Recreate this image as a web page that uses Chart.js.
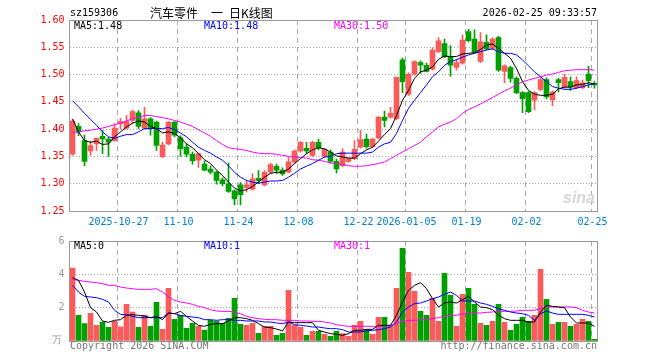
<!DOCTYPE html>
<html><head><meta charset="utf-8">
<script src="https://cdn.jsdelivr.net/npm/chart.js@4.4.1/dist/chart.umd.min.js"></script>
<style>
html,body{margin:0;padding:0;background:#fff;}
#wrap{position:relative;width:660px;height:360px;overflow:hidden;font-family:"DejaVu Sans Mono",monospace;font-size:10px;}
canvas{position:absolute;left:0;}
.t{position:absolute;white-space:nowrap;line-height:12px;}
.cj{position:absolute;white-space:nowrap;font-family:'Noto Sans CJK SC';font-size:12px;line-height:15px;top:5px;color:#000;}
</style></head><body>
<div id="wrap">
<canvas id="k" width="660" height="230" style="top:0px"></canvas>
<canvas id="v" width="660" height="130" style="top:230px"></canvas>
<div class="t" style="left:70px;top:7px;color:#000">sz159306</div>
<div class="cj" style="left:150px">汽车零件</div>
<div class="cj" style="left:211px">一</div>
<div class="cj" style="left:229px">日K线图</div>
<div class="t" style="right:63px;top:7px;color:#000">2026-02-25 09:33:57</div>
<div class="t" style="left:74px;top:20px;color:#000">MA5:1.48</div>
<div class="t" style="left:204px;top:20px;color:#0000ff">MA10:1.48</div>
<div class="t" style="left:334px;top:20px;color:#ff00ff">MA30:1.50</div>
<div class="t" style="left:74px;top:240px;color:#000">MA5:0</div>
<div class="t" style="left:204px;top:240px;color:#0000ff">MA10:1</div>
<div class="t" style="left:334px;top:240px;color:#ff00ff">MA30:1</div>
<div class="t" style="left:52px;top:334px;color:#999">万</div>
<div class="t" style="left:70px;top:340px;color:#777">Copyright 2026 SINA.COM</div>
<div class="t" style="right:63px;top:340px;color:#777">http://finance.sina.com.cn</div>
<div class="t" style="left:563px;top:190px;font-family:'Liberation Sans';font-style:italic;font-weight:bold;font-size:16px;line-height:16px;color:#d6d6d6">sina</div>
</div>
<script>
const dates = [
"2025-10-15","2025-10-16","2025-10-17","2025-10-20","2025-10-21","2025-10-22","2025-10-23","2025-10-24","2025-10-27","2025-10-28","2025-10-29","2025-10-30","2025-10-31",
"2025-11-03","2025-11-04","2025-11-05","2025-11-06","2025-11-07","2025-11-10","2025-11-11","2025-11-12","2025-11-13","2025-11-14","2025-11-17","2025-11-18","2025-11-19","2025-11-20","2025-11-21","2025-11-24","2025-11-25","2025-11-26","2025-11-27","2025-11-28",
"2025-12-01","2025-12-02","2025-12-03","2025-12-04","2025-12-05","2025-12-08","2025-12-09","2025-12-10","2025-12-11","2025-12-12","2025-12-15","2025-12-16","2025-12-17","2025-12-18","2025-12-19","2025-12-22","2025-12-23","2025-12-24","2025-12-25","2025-12-26","2025-12-29","2025-12-30","2025-12-31",
"2026-01-05","2026-01-06","2026-01-07","2026-01-08","2026-01-09","2026-01-12","2026-01-13","2026-01-14","2026-01-15","2026-01-16","2026-01-19","2026-01-20","2026-01-21","2026-01-22","2026-01-23","2026-01-26","2026-01-27","2026-01-28","2026-01-29","2026-01-30",
"2026-02-02","2026-02-03","2026-02-04","2026-02-05","2026-02-06","2026-02-09","2026-02-10","2026-02-11","2026-02-12","2026-02-13","2026-02-24","2026-02-25"];

const open = [1.354,1.405,1.379,1.360,1.373,1.387,1.382,1.379,1.410,1.402,1.416,1.430,1.402,1.419,1.413,1.349,1.373,1.413,1.384,1.367,1.354,1.343,1.336,1.327,1.321,1.307,1.300,1.287,1.298,1.293,1.290,1.310,1.298,1.321,1.332,1.325,1.321,1.340,1.360,1.365,1.352,1.376,1.350,1.358,1.341,1.333,1.341,1.346,1.367,1.382,1.368,1.384,1.422,1.422,1.419,1.527,1.464,1.501,1.522,1.517,1.510,1.542,1.557,1.533,1.513,1.521,1.579,1.565,1.524,1.559,1.548,1.568,1.506,1.513,1.493,1.467,1.467,1.453,1.473,1.491,1.454,1.491,1.477,1.487,1.476,1.476,1.501,1.484];
const high = [1.417,1.410,1.389,1.378,1.384,1.398,1.385,1.410,1.420,1.425,1.435,1.434,1.440,1.421,1.415,1.376,1.414,1.414,1.388,1.373,1.358,1.356,1.342,1.333,1.323,1.311,1.338,1.289,1.302,1.306,1.318,1.324,1.324,1.338,1.336,1.329,1.349,1.362,1.377,1.376,1.378,1.382,1.364,1.362,1.345,1.364,1.347,1.379,1.398,1.391,1.383,1.423,1.433,1.440,1.496,1.530,1.503,1.525,1.525,1.521,1.549,1.568,1.565,1.553,1.528,1.573,1.583,1.582,1.577,1.573,1.568,1.570,1.518,1.515,1.496,1.469,1.469,1.469,1.493,1.494,1.470,1.493,1.501,1.496,1.496,1.490,1.515,1.487];
const low = [1.352,1.388,1.333,1.352,1.361,1.355,1.350,1.378,1.400,1.400,1.410,1.401,1.400,1.389,1.361,1.348,1.371,1.386,1.350,1.349,1.336,1.330,1.324,1.318,1.299,1.296,1.284,1.261,1.261,1.285,1.288,1.300,1.296,1.319,1.318,1.315,1.320,1.337,1.358,1.355,1.350,1.362,1.348,1.338,1.320,1.331,1.339,1.344,1.365,1.365,1.366,1.382,1.404,1.420,1.417,1.467,1.462,1.499,1.502,1.505,1.508,1.540,1.531,1.497,1.508,1.519,1.560,1.539,1.522,1.545,1.546,1.506,1.485,1.486,1.465,1.430,1.430,1.435,1.470,1.456,1.443,1.468,1.475,1.471,1.474,1.474,1.476,1.475];
const close = [1.415,1.395,1.341,1.370,1.383,1.382,1.376,1.402,1.414,1.414,1.432,1.405,1.419,1.401,1.370,1.371,1.413,1.389,1.364,1.354,1.342,1.355,1.325,1.321,1.306,1.300,1.286,1.272,1.280,1.298,1.309,1.306,1.321,1.335,1.325,1.318,1.340,1.360,1.376,1.360,1.376,1.366,1.363,1.341,1.327,1.358,1.346,1.363,1.381,1.368,1.382,1.422,1.416,1.429,1.495,1.487,1.501,1.524,1.517,1.506,1.545,1.562,1.533,1.517,1.522,1.563,1.562,1.541,1.560,1.547,1.565,1.508,1.516,1.493,1.467,1.456,1.432,1.467,1.491,1.459,1.468,1.485,1.495,1.477,1.489,1.485,1.489,1.481];

const ma5 = [1.419,1.395,1.379,1.376,1.378,1.372,1.373,1.386,1.395,1.404,1.411,1.415,1.413,1.405,1.401,1.393,1.395,1.392,1.384,1.373,1.366,1.355,1.344,1.337,1.325,1.315,1.303,1.292,1.287,1.289,1.295,1.303,1.312,1.319,1.321,1.321,1.327,1.337,1.346,1.355,1.362,1.366,1.364,1.358,1.351,1.349,1.347,1.347,1.355,1.362,1.367,1.378,1.390,1.401,1.425,1.453,1.471,1.493,1.505,1.508,1.514,1.528,1.534,1.533,1.533,1.538,1.539,1.540,1.546,1.554,1.556,1.548,1.539,1.530,1.511,1.487,1.471,1.464,1.462,1.462,1.464,1.474,1.477,1.477,1.481,1.482,1.485,1.483];
const ma10 = [1.452,1.441,1.429,1.418,1.407,1.395,1.386,1.383,1.387,1.390,1.390,1.395,1.401,1.401,1.401,1.401,1.403,1.399,1.393,1.386,1.376,1.367,1.361,1.356,1.349,1.343,1.333,1.321,1.312,1.306,1.303,1.301,1.303,1.305,1.305,1.306,1.312,1.319,1.327,1.332,1.337,1.343,1.349,1.350,1.355,1.356,1.356,1.356,1.356,1.356,1.358,1.367,1.373,1.376,1.392,1.416,1.438,1.453,1.467,1.481,1.496,1.505,1.517,1.524,1.527,1.532,1.536,1.539,1.542,1.545,1.547,1.542,1.539,1.539,1.536,1.527,1.516,1.505,1.496,1.487,1.478,1.475,1.473,1.473,1.475,1.478,1.481,1.483];
const ma30 = [1.393,1.395,1.397,1.398,1.400,1.402,1.405,1.408,1.411,1.415,1.419,1.422,1.425,1.425,1.423,1.421,1.419,1.416,1.413,1.409,1.405,1.399,1.393,1.387,1.379,1.372,1.366,1.364,1.363,1.361,1.358,1.356,1.355,1.355,1.354,1.352,1.350,1.349,1.348,1.347,1.344,1.343,1.341,1.338,1.337,1.335,1.333,1.332,1.332,1.333,1.335,1.337,1.340,1.346,1.352,1.358,1.364,1.370,1.376,1.386,1.395,1.404,1.409,1.413,1.419,1.429,1.436,1.441,1.446,1.452,1.458,1.464,1.470,1.475,1.481,1.487,1.490,1.493,1.496,1.499,1.501,1.504,1.507,1.508,1.509,1.509,1.509,1.508];

const volume = [4.38,1.54,1.04,1.66,0.94,1.14,0.82,1.18,0.85,2.2,1.74,0.82,1.54,0.88,2.32,0.7,3.16,1.3,1.54,0.76,1.06,0.88,0.66,1.24,1.18,1.06,1.36,2.56,1.0,0.94,1.06,0.46,0.88,0.88,0.34,0.46,3.04,0.94,0.82,0.34,0.58,0.58,0.4,0.28,0.58,0.44,0.28,0.94,1.18,0.7,0.4,1.42,1.42,0.94,3.16,5.56,4.12,2.98,1.78,1.54,2.56,1.18,4.06,2.74,0.88,2.8,3.16,2.2,1.06,0.94,1.18,2.2,1.12,0.64,1.0,1.42,1.18,1.54,4.3,2.5,1.0,1.12,1.12,0.88,1.0,1.3,1.18,0.1];
const vma5 = [3.8,3.64,2.94,2.0,1.74,1.2,1.12,1.24,1.28,1.54,1.58,1.54,1.5,1.4,1.48,1.28,1.68,1.64,1.78,1.48,1.2,0.94,0.88,1.0,1.04,1.04,1.2,1.4,1.4,1.34,1.24,1.04,0.84,0.8,0.72,0.6,1.14,1.1,1.1,1.1,1.1,0.64,0.54,0.44,0.4,0.34,0.44,0.64,0.64,0.7,0.7,0.94,0.94,0.94,1.54,2.34,3.04,3.34,3.5,3.14,2.54,2.04,2.28,2.34,2.28,2.48,2.68,2.34,2.04,2.0,1.88,1.54,1.34,1.24,1.24,1.24,1.14,1.14,1.74,2.14,2.08,2.04,2.0,1.44,1.08,1.08,1.08,0.88];
const vma10 = [3.34,2.94,2.68,2.64,2.6,2.5,2.34,1.84,1.6,1.58,1.48,1.4,1.4,1.4,1.4,1.4,1.68,1.64,1.54,1.48,1.44,1.4,1.28,1.28,1.24,1.28,1.28,1.24,1.24,1.2,1.2,1.2,1.14,1.14,1.08,1.04,1.14,0.98,0.94,0.9,0.84,0.84,0.78,0.74,0.74,0.68,0.54,0.54,0.54,0.6,0.64,0.68,0.74,0.84,1.14,1.74,2.04,2.24,2.28,2.4,2.54,2.64,2.8,2.94,2.74,2.4,2.4,2.4,2.28,2.2,2.08,1.94,1.84,1.74,1.68,1.64,1.54,1.24,1.64,1.8,1.68,1.6,1.6,1.6,1.6,1.6,1.54,1.44];
const vma30 = [3.7,3.64,3.58,3.54,3.5,3.44,3.34,3.34,3.24,3.18,3.14,3.1,3.1,3.1,3.14,2.94,2.64,2.44,2.34,2.28,2.2,2.08,2.0,1.88,1.8,1.78,1.78,1.74,1.64,1.48,1.4,1.34,1.3,1.28,1.28,1.24,1.24,1.24,1.2,1.2,1.18,1.18,1.14,1.08,0.98,0.92,0.88,0.88,0.88,0.88,0.88,0.88,0.88,0.94,1.04,1.2,1.24,1.24,1.28,1.28,1.34,1.4,1.48,1.54,1.54,1.64,1.64,1.68,1.68,1.72,1.74,1.78,1.78,1.78,1.8,1.84,1.84,1.84,1.94,2.04,2.04,2.04,2.04,2.04,2.0,1.84,1.74,1.68];

const tickDates = ["2025-10-27","2025-11-10","2025-11-24","2025-12-08","2025-12-22","2026-01-05","2026-01-19","2026-02-02","2026-02-25"];
const tickText  = ["2025-10-27","11-10","11-24","12-08","12-22","2026-01-05","01-19","02-02","02-25"];
const priceTicks = [1.25,1.30,1.35,1.40,1.45,1.50,1.55,1.60];
const volTicks = [0,2,4,6];

const RED = '#fa5a5a', GREEN = '#00a000';
const GRID = '#aaaaaa', FRAME = '#999999', NONE = 'rgba(0,0,0,0)';
const isUp = i => close[i] >= open[i];
const candleColor = ctx => isUp(ctx.dataIndex) ? RED : GREEN;
const FONT = {family:"'DejaVu Sans Mono', monospace", size:10};
const dateGridColor = ctx => (ctx.tick && tickDates.indexOf(dates[ctx.index]) >= 0) ? GRID : NONE;
const innerGridColor = (lo, hi) => ctx => (ctx.tick && ctx.tick.value > lo && ctx.tick.value < hi) ? GRID : NONE;

const lineDs = (data, color) => ({type:'line', data, borderColor:color, borderWidth:1, pointRadius:0, tension:0, fill:false, order:0});
const basePlugins = {legend:{display:false}, tooltip:{enabled:false}, title:{display:false}};

const frameScales = {
  xTop:{type:'category', position:'top', display:true, grid:{display:false, drawTicks:false}, ticks:{display:false},
        border:{display:true, color:FRAME, width:1}, afterFit:s=>{ s.height = 0; }},
  yRight:{type:'linear', position:'right', display:true, min:0, max:1, grid:{display:false, drawTicks:false}, ticks:{display:false},
        border:{display:true, color:FRAME, width:1}, afterFit:s=>{ s.width = 0; }}
};

new Chart(document.getElementById('k'), {
  type:'bar',
  data:{
    labels: dates,
    datasets:[
      lineDs(ma5,'#000000'),
      lineDs(ma10,'#0000ff'),
      lineDs(ma30,'#ff00ff'),
      {type:'bar', data: dates.map((d,i)=>[open[i], close[i]]), backgroundColor:candleColor, barThickness:5, grouped:false, minBarLength:1, order:1},
      {type:'bar', data: dates.map((d,i)=>[low[i], high[i]]), backgroundColor:candleColor, barThickness:1, grouped:false, order:2}
    ]
  },
  options:{
    responsive:false, animation:false, devicePixelRatio:1, events:[],
    layout:{padding:{left:0, right:62.5, top:20, bottom:0}},
    plugins:basePlugins,
    scales:Object.assign({
      x:{type:'category', offset:true,
         grid:{display:true, offset:true, drawTicks:false, lineWidth:1, color:dateGridColor},
         border:{display:true, color:FRAME, width:1, dash:[5,4]},
         ticks:{autoSkip:false, minRotation:0, maxRotation:0, padding:5, labelOffset:-2, color:'#0080d0', font:FONT,
                callback:(v,i)=>{ const k = tickDates.indexOf(dates[i]); return k >= 0 ? tickText[k] : ''; }},
         afterFit:s=>{ s.height = 19; }},
      y:{min:1.25, max:1.60,
         grid:{display:true, drawTicks:false, lineWidth:1, color:innerGridColor(1.26, 1.59)},
         border:{display:true, color:FRAME, width:1, dash:[1,2]},
         afterBuildTicks:s=>{ s.ticks = priceTicks.map(v=>({value:v})); },
         ticks:{padding:5, color:'#ff0000', font:FONT, callback:v=>Number(v).toFixed(2)},
         afterFit:s=>{ s.width = 69.5; }}
    }, frameScales)
  }
});

new Chart(document.getElementById('v'), {
  type:'bar',
  data:{
    labels: dates,
    datasets:[
      lineDs(vma5,'#000000'),
      lineDs(vma10,'#0000ff'),
      lineDs(vma30,'#ff00ff'),
      {type:'bar', data: volume, backgroundColor:candleColor, barThickness:5, grouped:false, order:1}
    ]
  },
  options:{
    responsive:false, animation:false, devicePixelRatio:1, events:[],
    layout:{padding:{left:0, right:62.5, top:11, bottom:19}},
    plugins:basePlugins,
    scales:Object.assign({
      x:{type:'category', offset:true, display:true,
         grid:{display:true, offset:true, drawTicks:false, lineWidth:1, color:dateGridColor},
         border:{display:true, color:FRAME, width:1, dash:[5,4]},
         ticks:{display:false},
         afterFit:s=>{ s.height = 0; }},
      y:{min:0, max:6,
         grid:{display:true, drawTicks:false, lineWidth:1, color:innerGridColor(0.1, 5.9)},
         border:{display:true, color:FRAME, width:1, dash:[1,2]},
         afterBuildTicks:s=>{ s.ticks = volTicks.map(v=>({value:v})); },
         ticks:{padding:5, color:'#999', font:FONT, callback:v=> v === 0 ? '' : String(v)},
         afterFit:s=>{ s.width = 69.5; }}
    }, frameScales)
  }
});
</script>
</body></html>
